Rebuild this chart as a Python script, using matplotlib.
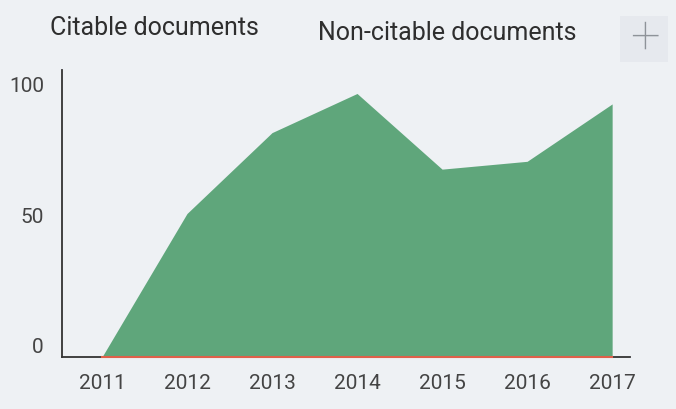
import matplotlib
matplotlib.use("Agg")
import matplotlib.pyplot as plt
from matplotlib.patches import FancyBboxPatch

years = [2011, 2012, 2013, 2014, 2015, 2016, 2017]
citable = [0, 55, 86, 101, 72, 75, 97]
non_citable = [0, 0, 0, 0, 0, 0, 0]
yticks = [0, 50, 100]
series_names = ["Citable documents", "Non-citable documents"]

plt.rcParams['font.family'] = ['Roboto', 'DejaVu Sans']
bg = '#eef1f4'
fig = plt.figure(figsize=(6.76, 4.09), dpi=100, facecolor=bg)
ax = fig.add_axes([62/676, 52/409, (630-62)/676, (357-70)/409])
ax.set_facecolor(bg)

top = [c + n for c, n in zip(citable, non_citable)]
ax.fill_between(years, non_citable, top, color='#5fa67b', linewidth=0)
ax.plot(years, non_citable, color='#e0604a', linewidth=1.5, zorder=5, clip_on=False)

ax.set_xlim(2010.53, 2017.21)
ax.set_ylim(0, 110)
ax.set_xticks(years)
ax.set_xticklabels([str(y) for y in years])
ax.set_yticks(yticks)
for s in ['top', 'right']:
    ax.spines[s].set_visible(False)
for s in ['left', 'bottom']:
    ax.spines[s].set_color('#333333')
    ax.spines[s].set_linewidth(1.3)
ax.tick_params(length=0, colors='#444444', labelsize=15)
ax.tick_params(axis='x', pad=12)
ax.tick_params(axis='y', pad=13)
for lab in ax.get_yticklabels():
    lab.set_verticalalignment('bottom')

fig.text(50/676, 1 - 28/409, series_names[0], fontsize=18, color='#2e2e2e', va='center', ha='left')
fig.text(318/676, 1 - 33/409, series_names[1], fontsize=18, color='#2e2e2e', va='center', ha='left')

box = FancyBboxPatch((620/676, 1 - 62/409), 48/676, 46/409, boxstyle='square,pad=0',
                     transform=fig.transFigure, facecolor='#e6e9ee', edgecolor='none')
fig.patches.append(box)
fig.text(645/676, 1 - 38/409, '+', fontsize=38, fontweight='light', color='#8e9399', ha='center', va='center')

fig.savefig('out.png', dpi=100, facecolor=bg)
